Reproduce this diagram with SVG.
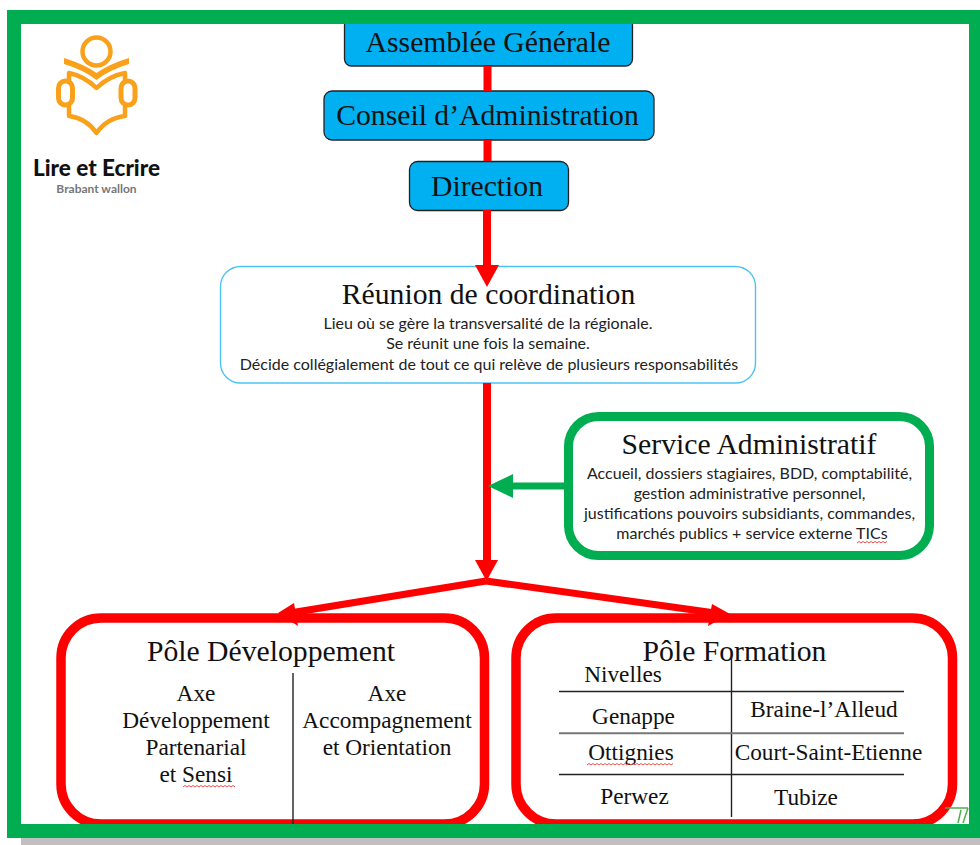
<svg xmlns="http://www.w3.org/2000/svg" width="980" height="845" viewBox="0 0 980 845">
<style>
.blue{fill:#00b0f0;stroke:#222;stroke-width:1.3}
.t{font-family:"Liberation Serif","Times New Roman",serif;fill:#111;text-anchor:middle}
.b{font-family:"Lato","Liberation Sans",sans-serif;font-size:16px;fill:#222;text-anchor:middle}
.big{font-size:29.700px}
.ttl{font-size:29.700px}
.m{font-size:23.300px}
.red{fill:#fff;stroke:#f00;stroke-width:9.5}
.cr{stroke:#f00;fill:none}
.sq{fill:none;stroke:#e05050;stroke-width:1}
.ol{fill:none;stroke:#f9a11b;stroke-linejoin:round;stroke-linecap:round}
.rule{stroke:#222;stroke-width:1.4}
</style>
<rect width="980" height="845" fill="#fff"/>
<g id="logo">
<circle class="ol" cx="96.500" cy="51.500" r="14" stroke-width="4.500"/>
<path d="M64 58Q84 64 96.500 73Q109 64 129 58L129 64Q109 70 96.500 80Q84 70 64 64Z" fill="#f9a11b"/>
<path class="ol" stroke-width="4.500" d="M69 73Q84 76 96.500 88Q109 76 125 73M69 73V82M125 73V82M69 105V116Q86 118 96.500 133Q107 118 125 116V105"/>
<rect class="ol" x="58.500" y="81" width="14" height="24" rx="7" stroke-width="5"/>
<rect class="ol" x="121" y="81" width="14" height="24" rx="7" stroke-width="5"/>
<text x="96.500" y="176" text-anchor="middle" font-family="Lato,'Liberation Sans',sans-serif" font-weight="900" font-size="23" fill="#111" textLength="127" lengthAdjust="spacingAndGlyphs">Lire et Ecrire</text>
<text x="96.500" y="192.500" text-anchor="middle" font-family="Lato,'Liberation Sans',sans-serif" font-weight="700" font-size="12" fill="#777">Brabant wallon</text>
</g>
<g id="assemblee"><rect class="blue" x="344.500" y="18" width="288" height="48" rx="7"/><text class="t big" x="488" y="52">Assemblée Générale</text></g>
<g id="conseil"><rect class="blue" x="324" y="91" width="330" height="49" rx="8"/><text class="t big" x="487.500" y="125">Conseil d’Administration</text></g>
<g id="direction"><rect class="blue" x="409.500" y="161.500" width="159" height="49" rx="8"/><text class="t big" x="487" y="196">Direction</text></g>
<g id="reunion"><rect x="220.500" y="266.500" width="535" height="116.500" rx="20" fill="#fff" stroke="#4dc3f5" stroke-width="1.400"/>
<text class="t ttl" x="488.500" y="304">Réunion de coordination</text>
<text class="b" x="488" y="329">Lieu où se gère la transversalité de la régionale.</text>
<text class="b" x="488" y="349">Se réunit une fois la semaine.</text>
<text class="b" x="489" y="370">Décide collégialement de tout ce qui relève de plusieurs responsabilités</text></g>
<g id="service"><rect x="568.500" y="416.500" width="361" height="139" rx="30" fill="#fff" stroke="#00ad50" stroke-width="9"/>
<text class="t ttl" x="749" y="454">Service Administratif</text>
<text class="b" x="749.500" y="478.500">Accueil, dossiers stagiaires, BDD, comptabilité,</text>
<text class="b" x="749.500" y="498.500">gestion administrative personnel,</text>
<text class="b" x="749.500" y="518.500">justifications pouvoirs subsidiants, commandes,</text>
<text class="b" x="752" y="538.500">marchés publics + service externe TICs</text>
<path class="sq" d="M857 543l2 -1.500 2 1.500 2 -1.500 2 1.500 2 -1.500 2 1.500 2 -1.500 2 1.500 2 -1.500 2 1.500 2 -1.500 2 1.500 2 -1.500 2 1.500 2 -1.500"/></g>
<g id="pole-developpement"><rect class="red" x="61" y="618" width="423.500" height="206" rx="40"/>
<text class="t ttl" x="271" y="661">Pôle Développement</text>
<line class="rule" x1="293" y1="673" x2="293" y2="824"/>
<text class="t m" x="196" y="701">Axe</text>
<text class="t m" x="196" y="728">Développement</text>
<text class="t m" x="196" y="755">Partenarial</text>
<text class="t m" x="196" y="782">et Sensi</text>
<path class="sq" d="M183 787l2 -1.500 2 1.500 2 -1.500 2 1.500 2 -1.500 2 1.500 2 -1.500 2 1.500 2 -1.500 2 1.500 2 -1.500 2 1.500 2 -1.500 2 1.500 2 -1.500 2 1.500 2 -1.500 2 1.500 2 -1.500 2 1.500 2 -1.500 2 1.500 2 -1.500 2 1.500 2 -1.500 2 1.500"/>
<text class="t m" x="387" y="701">Axe</text>
<text class="t m" x="387" y="728">Accompagnement</text>
<text class="t m" x="387" y="755">et Orientation</text></g>
<g id="pole-formation"><rect class="red" x="516" y="618" width="436.500" height="206" rx="40"/>
<text class="t ttl" x="734.500" y="661">Pôle Formation</text>
<line class="rule" x1="731.500" y1="657" x2="731.500" y2="817"/>
<line class="rule" x1="559" y1="691.500" x2="904" y2="691.500"/>
<line x1="559" y1="733.300" x2="904" y2="733.300" stroke="#777" stroke-width="2"/>
<line class="rule" x1="559" y1="774.500" x2="904" y2="774.500"/>
<text class="t m" x="623" y="682">Nivelles</text>
<text class="t m" x="633.500" y="724">Genappe</text>
<text class="t m" x="631" y="760">Ottignies</text>
<path class="sq" d="M587 765l2 -1.500 2 1.500 2 -1.500 2 1.500 2 -1.500 2 1.500 2 -1.500 2 1.500 2 -1.500 2 1.500 2 -1.500 2 1.500 2 -1.500 2 1.500 2 -1.500 2 1.500 2 -1.500 2 1.500 2 -1.500 2 1.500 2 -1.500 2 1.500 2 -1.500 2 1.500 2 -1.500 2 1.500 2 -1.500 2 1.500 2 -1.500 2 1.500 2 -1.500 2 1.500 2 -1.500 2 1.500 2 -1.500 2 1.500 2 -1.500 2 1.500 2 -1.500 2 1.500 2 -1.500 2 1.500 2 -1.500"/>
<text class="t m" x="634.500" y="804">Perwez</text>
<text class="t m" x="824" y="717">Braine-l’Alleud</text>
<text class="t m" x="828.500" y="760">Court-Saint-Etienne</text>
<text class="t m" x="806" y="805">Tubize</text></g>
<g id="connectors">
<path class="cr" stroke-width="8" d="M487.500 66V91M487.500 140V161M487 210V266M487 383V562"/>
<path class="cr" stroke-width="7" d="M486 581L715 613M486 581L290 613"/>
<path style="stroke:#00ad50;fill:none" stroke-width="7" d="M512 486H565"/>
<polygon fill="#f00" points="475,265 499,265 487,287"/>
<polygon fill="#f00" points="475,560 498,560 486.500,581"/>
<polygon fill="#00ad50" points="488,486 513,474 513,498"/>
<polygon fill="#f00" points="712,604 708,626 730,614"/>
<polygon fill="#f00" points="294,603 298,626 278,613"/>
</g>
<g id="frame">
<path d="M945 808H968M958 823L961 810M963 823L968 808" fill="none" stroke="#4caf50" stroke-width="1.500"/>
<rect x="21" y="838" width="959" height="7" fill="#c0c0c0"/>
<path fill="#00ad50" fill-rule="evenodd" d="M7 10H980V838H7ZM21 24V824H969V24Z"/>
</g>
</svg>
